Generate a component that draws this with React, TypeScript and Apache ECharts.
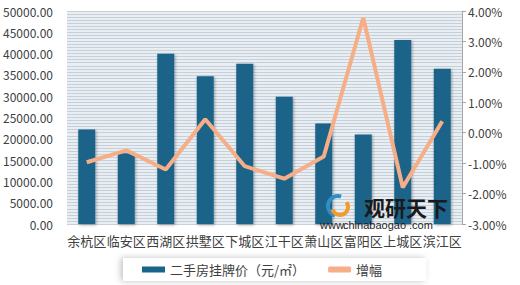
import React, { useEffect, useRef } from "react";
import * as echarts from "echarts";

const categories = ["余杭区", "临安区", "西湖区", "拱墅区", "下城区", "江干区", "萧山区", "富阳区", "上城区", "滨江区"];
const priceValues = [22180, 16600, 39980, 34710, 37630, 29870, 23590, 20990, 43180, 36450];
const growthValues = [-0.97, -0.58, -1.21, 0.44, -1.1, -1.51, -0.78, 3.78, -1.8, 0.38];
const priceName = "二手房挂牌价（元/㎡）";
const growthName = "增幅";
const sitePieces = ["www.", "chinabaogao", ".com"];

export default function App() {
  const ref = useRef<HTMLDivElement>(null);
  useEffect(() => {
    if (!ref.current) return;
    const chart = echarts.init(ref.current, null, { renderer: "svg" });
    const font = "'Noto Sans CJK SC', 'Noto Sans', sans-serif";
    const siteFont = "'Liberation Sans', Arial, sans-serif";
    const pieceX = [320, 343, 409];
    chart.setOption({
      animation: false,
      textStyle: { fontFamily: font },
      grid: {
        left: 67,
        right: 58,
        top: 11,
        bottom: 61,
        show: true,
        backgroundColor: "#e9eef3",
        borderWidth: 0,
      },
      legend: {
        left: 123,
        top: 258,
        padding: [5, 44, 5, 19],
        backgroundColor: "#ffffff",
        shadowColor: "rgba(0,0,0,0.25)",
        shadowBlur: 6,
        shadowOffsetX: -2,
        itemWidth: 23,
        itemHeight: 6,
        itemGap: 23,
        textStyle: { fontSize: 13, color: "#404040", fontFamily: font },
        data: [
          { name: priceName, icon: "rect" },
          { name: growthName, icon: "roundRect" },
        ],
      },
      xAxis: {
        type: "category",
        data: categories,
        axisLine: { show: false },
        axisTick: { show: false },
        axisLabel: { fontSize: 13, color: "#404040", margin: 10, interval: 0 },
      },
      yAxis: [
        {
          type: "value",
          min: 0,
          max: 50000,
          interval: 5000,
          axisLine: { show: false },
          axisTick: { show: false },
          axisLabel: {
            fontSize: 12,
            color: "#404040",
            margin: 14,
            formatter: (v: number) => v.toFixed(2),
          },
          splitLine: { show: true, lineStyle: { color: "#c6d0da", width: 1 } },
          minorTick: { show: false, splitNumber: 7 },
          minorSplitLine: { show: true, lineStyle: { color: "#c6d0da", width: 1 } },
        },
        {
          type: "value",
          min: -3,
          max: 4,
          interval: 1,
          axisLine: { show: true, lineStyle: { color: "#a6a6a6" } },
          axisTick: { show: true, length: 4, lineStyle: { color: "#a6a6a6" } },
          splitLine: { show: false },
          axisLabel: {
            fontSize: 12,
            color: "#404040",
            margin: 6,
            formatter: (v: number) => v.toFixed(2) + "%",
          },
        },
      ],
      series: [
        {
          name: priceName,
          type: "bar",
          data: priceValues,
          yAxisIndex: 0,
          barWidth: 17,
          itemStyle: {
            color: "#1b6489",
            shadowColor: "rgba(0,0,0,0.35)",
            shadowBlur: 3,
            shadowOffsetX: 1,
            shadowOffsetY: 1,
          },
        },
        {
          name: growthName,
          type: "line",
          data: growthValues,
          yAxisIndex: 1,
          symbol: "none",
          lineStyle: { color: "#f5ae86", width: 4 },
          itemStyle: { color: "#f5ae86" },
          z: 3,
        },
      ],
      graphic: {
        elements: [
          {
            type: "arc",
            shape: { cx: 338, cy: 206, r: 10, startAngle: Math.PI * 0.6, endAngle: Math.PI * 1.6 },
            style: { stroke: "#2f8fc4", lineWidth: 4, fill: "none" },
            z: 100,
          },
          {
            type: "arc",
            shape: { cx: 340, cy: 207, r: 8, startAngle: -Math.PI * 0.2, endAngle: Math.PI * 0.9 },
            style: { stroke: "#f29a2e", lineWidth: 4, fill: "none" },
            z: 100,
          },
          {
            type: "text",
            x: 364,
            y: 196,
            z: 100,
            style: {
              text: "观研天下",
              fontSize: 21,
              lineHeight: 22,
              fontWeight: "bold",
              fontFamily: "'Noto Sans CJK SC'",
              fill: "#1a1a1a",
              verticalAlign: "top",
            },
          },
          ...sitePieces.map((t, i) => ({
            type: "text",
            x: pieceX[i],
            y: 219,
            z: 100,
            style: {
              text: t,
              fontSize: 11,
              lineHeight: 11,
              fontFamily: siteFont,
              fill: "#1e1e1e",
              verticalAlign: "top",
            },
          })),
        ],
      },
    });
    return () => chart.dispose();
  }, []);
  return (
    <div
      ref={ref}
      style={{ position: "fixed", left: 0, top: 0, width: 520, height: 285, background: "#ffffff" }}
    />
  );
}
